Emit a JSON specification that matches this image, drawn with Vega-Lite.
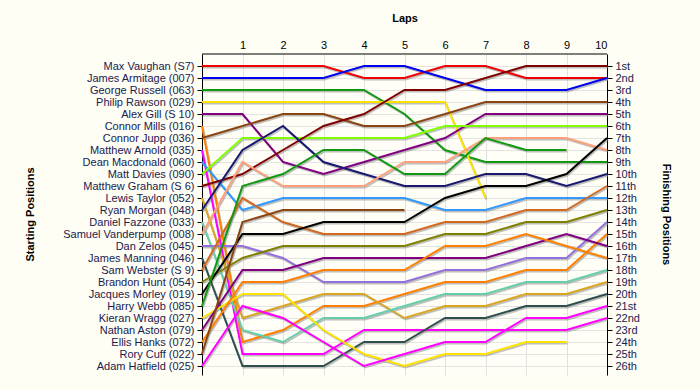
{
"$schema":"https://vega.github.io/schema/vega-lite/v6.json",
"width":405,"height":321,
"autosize":{"type":"none"},
"padding":{"left":202,"top":54,"right":93,"bottom":15},
"background":"#FEFEF4",
"config":{"view":{"stroke":null,"fill":"#FFFFF8"},"font":"Liberation Sans",
 "axis":{"labelFont":"Liberation Sans","labelFontSize":11,"labelColor":"#202050","titleFont":"Liberation Sans","titleFontSize":11,"titleFontWeight":"bold","titleColor":"#000000","domain":true,"domainColor":"#000000","domainWidth":1,"tickColor":"#000000","gridColor":"#E4E4E4","gridWidth":1}},
"datasets":{"laps":[
{"driver":"Max Vaughan (S7)","lap":0,"pos":1},{"driver":"Max Vaughan (S7)","lap":1,"pos":1},{"driver":"Max Vaughan (S7)","lap":2,"pos":1},{"driver":"Max Vaughan (S7)","lap":3,"pos":1},{"driver":"Max Vaughan (S7)","lap":4,"pos":2},{"driver":"Max Vaughan (S7)","lap":5,"pos":2},{"driver":"Max Vaughan (S7)","lap":6,"pos":1},{"driver":"Max Vaughan (S7)","lap":7,"pos":1},{"driver":"Max Vaughan (S7)","lap":8,"pos":2},{"driver":"Max Vaughan (S7)","lap":9,"pos":2},{"driver":"Max Vaughan (S7)","lap":10,"pos":2},
{"driver":"James Armitage (007)","lap":0,"pos":2},{"driver":"James Armitage (007)","lap":1,"pos":2},{"driver":"James Armitage (007)","lap":2,"pos":2},{"driver":"James Armitage (007)","lap":3,"pos":2},{"driver":"James Armitage (007)","lap":4,"pos":1},{"driver":"James Armitage (007)","lap":5,"pos":1},{"driver":"James Armitage (007)","lap":6,"pos":2},{"driver":"James Armitage (007)","lap":7,"pos":3},{"driver":"James Armitage (007)","lap":8,"pos":3},{"driver":"James Armitage (007)","lap":9,"pos":3},{"driver":"James Armitage (007)","lap":10,"pos":2},
{"driver":"George Russell (063)","lap":0,"pos":3},{"driver":"George Russell (063)","lap":1,"pos":3},{"driver":"George Russell (063)","lap":2,"pos":3},{"driver":"George Russell (063)","lap":3,"pos":3},{"driver":"George Russell (063)","lap":4,"pos":3},{"driver":"George Russell (063)","lap":5,"pos":5},{"driver":"George Russell (063)","lap":6,"pos":8},{"driver":"George Russell (063)","lap":7,"pos":9},{"driver":"George Russell (063)","lap":8,"pos":9},{"driver":"George Russell (063)","lap":9,"pos":9},{"driver":"George Russell (063)","lap":10,"pos":9},
{"driver":"Philip Rawson (029)","lap":0,"pos":4},{"driver":"Philip Rawson (029)","lap":1,"pos":4},{"driver":"Philip Rawson (029)","lap":2,"pos":4},{"driver":"Philip Rawson (029)","lap":3,"pos":4},{"driver":"Philip Rawson (029)","lap":4,"pos":4},{"driver":"Philip Rawson (029)","lap":5,"pos":4},{"driver":"Philip Rawson (029)","lap":6,"pos":4},{"driver":"Philip Rawson (029)","lap":7,"pos":12},
{"driver":"Alex Gill (S 10)","lap":0,"pos":5},{"driver":"Alex Gill (S 10)","lap":1,"pos":5},{"driver":"Alex Gill (S 10)","lap":2,"pos":9},{"driver":"Alex Gill (S 10)","lap":3,"pos":10},{"driver":"Alex Gill (S 10)","lap":4,"pos":9},{"driver":"Alex Gill (S 10)","lap":5,"pos":8},{"driver":"Alex Gill (S 10)","lap":6,"pos":7},{"driver":"Alex Gill (S 10)","lap":7,"pos":5},{"driver":"Alex Gill (S 10)","lap":8,"pos":5},{"driver":"Alex Gill (S 10)","lap":9,"pos":5},{"driver":"Alex Gill (S 10)","lap":10,"pos":5},
{"driver":"Connor Mills (016)","lap":0,"pos":6},{"driver":"Connor Mills (016)","lap":1,"pos":24},{"driver":"Connor Mills (016)","lap":2,"pos":23},{"driver":"Connor Mills (016)","lap":3,"pos":21},{"driver":"Connor Mills (016)","lap":4,"pos":21},{"driver":"Connor Mills (016)","lap":5,"pos":20},{"driver":"Connor Mills (016)","lap":6,"pos":19},{"driver":"Connor Mills (016)","lap":7,"pos":19},{"driver":"Connor Mills (016)","lap":8,"pos":18},{"driver":"Connor Mills (016)","lap":9,"pos":18},{"driver":"Connor Mills (016)","lap":10,"pos":15},
{"driver":"Connor Jupp (036)","lap":0,"pos":7},{"driver":"Connor Jupp (036)","lap":1,"pos":6},{"driver":"Connor Jupp (036)","lap":2,"pos":5},{"driver":"Connor Jupp (036)","lap":3,"pos":5},{"driver":"Connor Jupp (036)","lap":4,"pos":6},{"driver":"Connor Jupp (036)","lap":5,"pos":6},{"driver":"Connor Jupp (036)","lap":6,"pos":5},{"driver":"Connor Jupp (036)","lap":7,"pos":4},{"driver":"Connor Jupp (036)","lap":8,"pos":4},{"driver":"Connor Jupp (036)","lap":9,"pos":4},{"driver":"Connor Jupp (036)","lap":10,"pos":4},
{"driver":"Matthew Arnold (035)","lap":0,"pos":8},{"driver":"Matthew Arnold (035)","lap":1,"pos":25},{"driver":"Matthew Arnold (035)","lap":2,"pos":25},{"driver":"Matthew Arnold (035)","lap":3,"pos":25},{"driver":"Matthew Arnold (035)","lap":4,"pos":23},{"driver":"Matthew Arnold (035)","lap":5,"pos":23},{"driver":"Matthew Arnold (035)","lap":6,"pos":23},{"driver":"Matthew Arnold (035)","lap":7,"pos":23},{"driver":"Matthew Arnold (035)","lap":8,"pos":23},{"driver":"Matthew Arnold (035)","lap":9,"pos":23},{"driver":"Matthew Arnold (035)","lap":10,"pos":22},
{"driver":"Dean Macdonald (060)","lap":0,"pos":9},{"driver":"Dean Macdonald (060)","lap":1,"pos":13},{"driver":"Dean Macdonald (060)","lap":2,"pos":12},{"driver":"Dean Macdonald (060)","lap":3,"pos":12},{"driver":"Dean Macdonald (060)","lap":4,"pos":12},{"driver":"Dean Macdonald (060)","lap":5,"pos":12},{"driver":"Dean Macdonald (060)","lap":6,"pos":13},{"driver":"Dean Macdonald (060)","lap":7,"pos":13},{"driver":"Dean Macdonald (060)","lap":8,"pos":12},{"driver":"Dean Macdonald (060)","lap":9,"pos":12},{"driver":"Dean Macdonald (060)","lap":10,"pos":12},
{"driver":"Matt Davies (090)","lap":0,"pos":10},{"driver":"Matt Davies (090)","lap":1,"pos":7},{"driver":"Matt Davies (090)","lap":2,"pos":7},{"driver":"Matt Davies (090)","lap":3,"pos":7},{"driver":"Matt Davies (090)","lap":4,"pos":7},{"driver":"Matt Davies (090)","lap":5,"pos":7},{"driver":"Matt Davies (090)","lap":6,"pos":6},{"driver":"Matt Davies (090)","lap":7,"pos":6},{"driver":"Matt Davies (090)","lap":8,"pos":6},{"driver":"Matt Davies (090)","lap":9,"pos":6},{"driver":"Matt Davies (090)","lap":10,"pos":6},
{"driver":"Matthew Graham (S 6)","lap":0,"pos":11},{"driver":"Matthew Graham (S 6)","lap":1,"pos":10},{"driver":"Matthew Graham (S 6)","lap":2,"pos":8},{"driver":"Matthew Graham (S 6)","lap":3,"pos":6},{"driver":"Matthew Graham (S 6)","lap":4,"pos":5},{"driver":"Matthew Graham (S 6)","lap":5,"pos":3},{"driver":"Matthew Graham (S 6)","lap":6,"pos":3},{"driver":"Matthew Graham (S 6)","lap":7,"pos":2},{"driver":"Matthew Graham (S 6)","lap":8,"pos":1},{"driver":"Matthew Graham (S 6)","lap":9,"pos":1},{"driver":"Matthew Graham (S 6)","lap":10,"pos":1},
{"driver":"Lewis Taylor (052)","lap":0,"pos":12},{"driver":"Lewis Taylor (052)","lap":1,"pos":22},{"driver":"Lewis Taylor (052)","lap":2,"pos":21},{"driver":"Lewis Taylor (052)","lap":3,"pos":20},{"driver":"Lewis Taylor (052)","lap":4,"pos":20},{"driver":"Lewis Taylor (052)","lap":5,"pos":22},{"driver":"Lewis Taylor (052)","lap":6,"pos":21},{"driver":"Lewis Taylor (052)","lap":7,"pos":21},{"driver":"Lewis Taylor (052)","lap":8,"pos":20},{"driver":"Lewis Taylor (052)","lap":9,"pos":20},{"driver":"Lewis Taylor (052)","lap":10,"pos":19},
{"driver":"Ryan Morgan (048)","lap":0,"pos":13},{"driver":"Ryan Morgan (048)","lap":1,"pos":8},{"driver":"Ryan Morgan (048)","lap":2,"pos":6},{"driver":"Ryan Morgan (048)","lap":3,"pos":9},{"driver":"Ryan Morgan (048)","lap":4,"pos":10},{"driver":"Ryan Morgan (048)","lap":5,"pos":11},{"driver":"Ryan Morgan (048)","lap":6,"pos":11},{"driver":"Ryan Morgan (048)","lap":7,"pos":10},{"driver":"Ryan Morgan (048)","lap":8,"pos":10},{"driver":"Ryan Morgan (048)","lap":9,"pos":11},{"driver":"Ryan Morgan (048)","lap":10,"pos":10},
{"driver":"Daniel Fazzone (033)","lap":0,"pos":14},{"driver":"Daniel Fazzone (033)","lap":1,"pos":23},{"driver":"Daniel Fazzone (033)","lap":2,"pos":24},{"driver":"Daniel Fazzone (033)","lap":3,"pos":22},{"driver":"Daniel Fazzone (033)","lap":4,"pos":22},{"driver":"Daniel Fazzone (033)","lap":5,"pos":21},{"driver":"Daniel Fazzone (033)","lap":6,"pos":20},{"driver":"Daniel Fazzone (033)","lap":7,"pos":20},{"driver":"Daniel Fazzone (033)","lap":8,"pos":19},{"driver":"Daniel Fazzone (033)","lap":9,"pos":19},{"driver":"Daniel Fazzone (033)","lap":10,"pos":18},
{"driver":"Samuel Vanderpump (008)","lap":0,"pos":15},{"driver":"Samuel Vanderpump (008)","lap":1,"pos":9},{"driver":"Samuel Vanderpump (008)","lap":2,"pos":11},{"driver":"Samuel Vanderpump (008)","lap":3,"pos":11},{"driver":"Samuel Vanderpump (008)","lap":4,"pos":11},{"driver":"Samuel Vanderpump (008)","lap":5,"pos":9},{"driver":"Samuel Vanderpump (008)","lap":6,"pos":9},{"driver":"Samuel Vanderpump (008)","lap":7,"pos":7},{"driver":"Samuel Vanderpump (008)","lap":8,"pos":7},{"driver":"Samuel Vanderpump (008)","lap":9,"pos":7},{"driver":"Samuel Vanderpump (008)","lap":10,"pos":8},
{"driver":"Dan Zelos (045)","lap":0,"pos":16},{"driver":"Dan Zelos (045)","lap":1,"pos":16},{"driver":"Dan Zelos (045)","lap":2,"pos":17},{"driver":"Dan Zelos (045)","lap":3,"pos":19},{"driver":"Dan Zelos (045)","lap":4,"pos":19},{"driver":"Dan Zelos (045)","lap":5,"pos":19},{"driver":"Dan Zelos (045)","lap":6,"pos":18},{"driver":"Dan Zelos (045)","lap":7,"pos":18},{"driver":"Dan Zelos (045)","lap":8,"pos":17},{"driver":"Dan Zelos (045)","lap":9,"pos":17},{"driver":"Dan Zelos (045)","lap":10,"pos":14},
{"driver":"James Manning (046)","lap":0,"pos":17},{"driver":"James Manning (046)","lap":1,"pos":26},{"driver":"James Manning (046)","lap":2,"pos":26},{"driver":"James Manning (046)","lap":3,"pos":26},{"driver":"James Manning (046)","lap":4,"pos":24},{"driver":"James Manning (046)","lap":5,"pos":24},{"driver":"James Manning (046)","lap":6,"pos":22},{"driver":"James Manning (046)","lap":7,"pos":22},{"driver":"James Manning (046)","lap":8,"pos":21},{"driver":"James Manning (046)","lap":9,"pos":21},{"driver":"James Manning (046)","lap":10,"pos":20},
{"driver":"Sam Webster (S 9)","lap":0,"pos":18},{"driver":"Sam Webster (S 9)","lap":1,"pos":12},{"driver":"Sam Webster (S 9)","lap":2,"pos":14},{"driver":"Sam Webster (S 9)","lap":3,"pos":15},{"driver":"Sam Webster (S 9)","lap":4,"pos":15},{"driver":"Sam Webster (S 9)","lap":5,"pos":15},{"driver":"Sam Webster (S 9)","lap":6,"pos":14},{"driver":"Sam Webster (S 9)","lap":7,"pos":14},{"driver":"Sam Webster (S 9)","lap":8,"pos":13},{"driver":"Sam Webster (S 9)","lap":9,"pos":13},{"driver":"Sam Webster (S 9)","lap":10,"pos":11},
{"driver":"Brandon Hunt (054)","lap":0,"pos":19},{"driver":"Brandon Hunt (054)","lap":1,"pos":17},{"driver":"Brandon Hunt (054)","lap":2,"pos":16},{"driver":"Brandon Hunt (054)","lap":3,"pos":16},{"driver":"Brandon Hunt (054)","lap":4,"pos":16},{"driver":"Brandon Hunt (054)","lap":5,"pos":16},{"driver":"Brandon Hunt (054)","lap":6,"pos":15},{"driver":"Brandon Hunt (054)","lap":7,"pos":15},{"driver":"Brandon Hunt (054)","lap":8,"pos":14},{"driver":"Brandon Hunt (054)","lap":9,"pos":14},{"driver":"Brandon Hunt (054)","lap":10,"pos":13},
{"driver":"Jacques Morley (019)","lap":0,"pos":20},{"driver":"Jacques Morley (019)","lap":1,"pos":15},{"driver":"Jacques Morley (019)","lap":2,"pos":15},{"driver":"Jacques Morley (019)","lap":3,"pos":14},{"driver":"Jacques Morley (019)","lap":4,"pos":14},{"driver":"Jacques Morley (019)","lap":5,"pos":14},{"driver":"Jacques Morley (019)","lap":6,"pos":12},{"driver":"Jacques Morley (019)","lap":7,"pos":11},{"driver":"Jacques Morley (019)","lap":8,"pos":11},{"driver":"Jacques Morley (019)","lap":9,"pos":10},{"driver":"Jacques Morley (019)","lap":10,"pos":7},
{"driver":"Harry Webb (085)","lap":0,"pos":21},{"driver":"Harry Webb (085)","lap":1,"pos":11},{"driver":"Harry Webb (085)","lap":2,"pos":10},{"driver":"Harry Webb (085)","lap":3,"pos":8},{"driver":"Harry Webb (085)","lap":4,"pos":8},{"driver":"Harry Webb (085)","lap":5,"pos":10},{"driver":"Harry Webb (085)","lap":6,"pos":10},{"driver":"Harry Webb (085)","lap":7,"pos":7},{"driver":"Harry Webb (085)","lap":8,"pos":8},{"driver":"Harry Webb (085)","lap":9,"pos":8},
{"driver":"Kieran Wragg (027)","lap":0,"pos":22},{"driver":"Kieran Wragg (027)","lap":1,"pos":20},{"driver":"Kieran Wragg (027)","lap":2,"pos":20},{"driver":"Kieran Wragg (027)","lap":3,"pos":23},{"driver":"Kieran Wragg (027)","lap":4,"pos":25},{"driver":"Kieran Wragg (027)","lap":5,"pos":26},{"driver":"Kieran Wragg (027)","lap":6,"pos":25},{"driver":"Kieran Wragg (027)","lap":7,"pos":25},{"driver":"Kieran Wragg (027)","lap":8,"pos":24},{"driver":"Kieran Wragg (027)","lap":9,"pos":24},
{"driver":"Nathan Aston (079)","lap":0,"pos":23},{"driver":"Nathan Aston (079)","lap":1,"pos":18},{"driver":"Nathan Aston (079)","lap":2,"pos":18},{"driver":"Nathan Aston (079)","lap":3,"pos":17},{"driver":"Nathan Aston (079)","lap":4,"pos":17},{"driver":"Nathan Aston (079)","lap":5,"pos":17},{"driver":"Nathan Aston (079)","lap":6,"pos":17},{"driver":"Nathan Aston (079)","lap":7,"pos":17},{"driver":"Nathan Aston (079)","lap":8,"pos":16},{"driver":"Nathan Aston (079)","lap":9,"pos":15},{"driver":"Nathan Aston (079)","lap":10,"pos":16},
{"driver":"Ellis Hanks (072)","lap":0,"pos":24},{"driver":"Ellis Hanks (072)","lap":1,"pos":19},{"driver":"Ellis Hanks (072)","lap":2,"pos":19},{"driver":"Ellis Hanks (072)","lap":3,"pos":18},{"driver":"Ellis Hanks (072)","lap":4,"pos":18},{"driver":"Ellis Hanks (072)","lap":5,"pos":18},{"driver":"Ellis Hanks (072)","lap":6,"pos":16},{"driver":"Ellis Hanks (072)","lap":7,"pos":16},{"driver":"Ellis Hanks (072)","lap":8,"pos":15},{"driver":"Ellis Hanks (072)","lap":9,"pos":16},{"driver":"Ellis Hanks (072)","lap":10,"pos":17},
{"driver":"Rory Cuff (022)","lap":0,"pos":25},{"driver":"Rory Cuff (022)","lap":1,"pos":14},{"driver":"Rory Cuff (022)","lap":2,"pos":13},{"driver":"Rory Cuff (022)","lap":3,"pos":13},{"driver":"Rory Cuff (022)","lap":4,"pos":13},{"driver":"Rory Cuff (022)","lap":5,"pos":13},
{"driver":"Adam Hatfield (025)","lap":0,"pos":26},{"driver":"Adam Hatfield (025)","lap":1,"pos":21},{"driver":"Adam Hatfield (025)","lap":2,"pos":22},{"driver":"Adam Hatfield (025)","lap":3,"pos":24},{"driver":"Adam Hatfield (025)","lap":4,"pos":26},{"driver":"Adam Hatfield (025)","lap":5,"pos":25},{"driver":"Adam Hatfield (025)","lap":6,"pos":24},{"driver":"Adam Hatfield (025)","lap":7,"pos":24},{"driver":"Adam Hatfield (025)","lap":8,"pos":22},{"driver":"Adam Hatfield (025)","lap":9,"pos":22},{"driver":"Adam Hatfield (025)","lap":10,"pos":21}
]},
"layer":[
 {"data":{"name":"laps"},
  "mark":{"type":"line","strokeWidth":2,"color":"#8A8A8A","opacity":0.55,"xOffset":1,"yOffset":1.5},
  "encoding":{
   "x":{"field":"lap","type":"quantitative","scale":{"domain":[0,10],"nice":false,"zero":false},
        "axis":{"orient":"top","values":[1,2,3,4,5,6,7,8,9,10],"ticks":false,"domain":false,"labelPadding":4,"labelColor":"#000000","grid":true,"gridColor":"#E2E2E2","title":"Laps","titleY":-36,"titleX":202.5,"titleBaseline":"middle","titleAlign":"center"}},
   "y":{"field":"pos","type":"quantitative","scale":{"domain":[0,26.75],"reverse":true,"nice":false,"zero":false},
        "axis":{"orient":"left","values":[1,2,3,4,5,6,7,8,9,10,11,12,13,14,15,16,17,18,19,20,21,22,23,24,25,26],"tickSize":5,"labelPadding":3,"grid":true,"title":"Starting Positions","titleAngle":270,"titleX":-172,"titleY":160,"titleAlign":"center","titleBaseline":"middle",
         "labelExpr":"['','Max Vaughan (S7)','James Armitage (007)','George Russell (063)','Philip Rawson (029)','Alex Gill (S 10)','Connor Mills (016)','Connor Jupp (036)','Matthew Arnold (035)','Dean Macdonald (060)','Matt Davies (090)','Matthew Graham (S 6)','Lewis Taylor (052)','Ryan Morgan (048)','Daniel Fazzone (033)','Samuel Vanderpump (008)','Dan Zelos (045)','James Manning (046)','Sam Webster (S 9)','Brandon Hunt (054)','Jacques Morley (019)','Harry Webb (085)','Kieran Wragg (027)','Nathan Aston (079)','Ellis Hanks (072)','Rory Cuff (022)','Adam Hatfield (025)'][datum.value]"}},
   "detail":{"field":"driver"}}},
 {"data":{"name":"laps"},
  "mark":{"type":"line","strokeWidth":2},
  "encoding":{
   "x":{"field":"lap","type":"quantitative"},
   "y":{"field":"pos","type":"quantitative",
        "axis":{"orient":"right","values":[1,2,3,4,5,6,7,8,9,10,11,12,13,14,15,16,17,18,19,20,21,22,23,24,25,26],"tickSize":5,"labelPadding":3,"grid":false,"title":"Finishing Positions","titleAngle":90,"titleX":58,"titleY":160,"titleAlign":"center","titleBaseline":"middle",
         "labelExpr":"datum.value + ((datum.value==1||datum.value==21)?'st':(datum.value==2||datum.value==22)?'nd':(datum.value==3||datum.value==23)?'rd':'th')"}},
   "color":{"field":"driver","type":"nominal","legend":null,
     "scale":{"domain":["Max Vaughan (S7)","James Armitage (007)","George Russell (063)","Philip Rawson (029)","Alex Gill (S 10)","Connor Mills (016)","Connor Jupp (036)","Matthew Arnold (035)","Dean Macdonald (060)","Matt Davies (090)","Matthew Graham (S 6)","Lewis Taylor (052)","Ryan Morgan (048)","Daniel Fazzone (033)","Samuel Vanderpump (008)","Dan Zelos (045)","James Manning (046)","Sam Webster (S 9)","Brandon Hunt (054)","Jacques Morley (019)","Harry Webb (085)","Kieran Wragg (027)","Nathan Aston (079)","Ellis Hanks (072)","Rory Cuff (022)","Adam Hatfield (025)"],
      "range":["#F00000","#0000EE","#119911","#FFE200","#800080","#FF8000","#8B4513","#FF00FF","#3399FF","#80FF00","#800000","#DAA520","#191970","#66CDAA","#FFA07A","#9370DB","#2F4F4F","#D2691E","#808000","#000000","#119911","#FFE200","#800080","#FF8000","#8B4513","#FF00FF"]}}}},
 {"data":{"values":[{}]},
  "mark":{"type":"rule","color":"#000000","strokeWidth":1},
  "encoding":{"y":{"datum":0,"type":"quantitative","axis":null}}}
],
"resolve":{"axis":{"y":"independent"}}
}
